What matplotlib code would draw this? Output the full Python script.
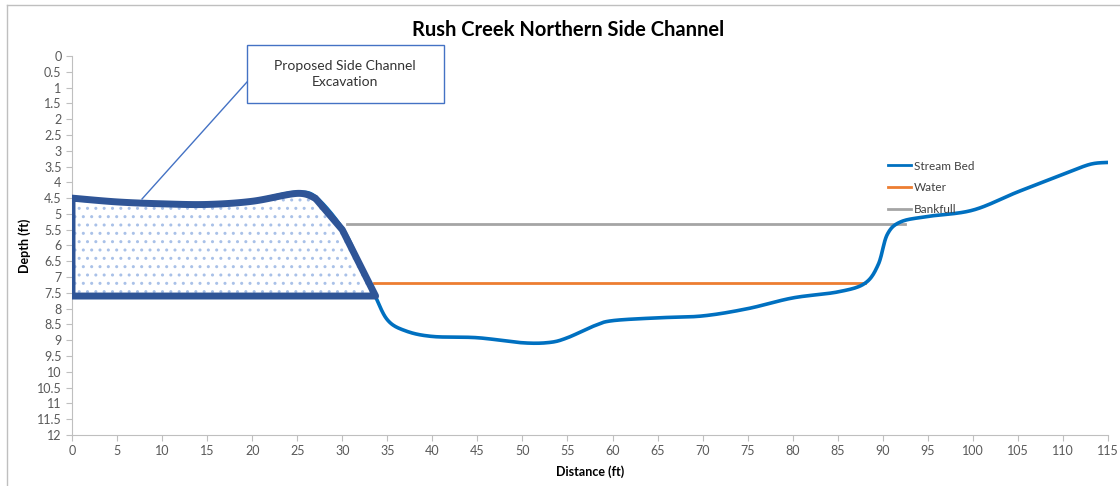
"""Rush Creek Northern Side Channel cross-section."""

import matplotlib.pyplot as plt
import numpy as np
from matplotlib.lines import Line2D
from matplotlib.patches import Polygon, Rectangle

plt.rcParams["font.family"] = ["Lato", "DejaVu Sans"]

# Stream bed profile (distance ft, depth ft)
bed_distance = [0, 5, 10, 15, 20, 23, 25, 27, 30, 32, 33.5, 35, 37, 40, 45,
                50, 53, 55, 58, 60, 65, 70, 75, 80, 85, 88, 89.5, 90.5,
                92, 95, 100, 105, 110, 113, 115]
bed_depth = [4.55, 4.62, 4.68, 4.7, 4.58, 4.4, 4.32, 4.45, 5.45, 6.6, 7.5,
             8.35, 8.7, 8.88, 8.92, 9.08, 9.07, 8.92, 8.54, 8.38, 8.29, 8.23,
             8.0, 7.66, 7.47, 7.2, 6.6, 5.65, 5.25, 5.08, 4.88, 4.3, 3.75,
             3.43, 3.37]

water_distance = [33.5, 88]
water_depth = [7.2, 7.2]

bankfull_distance = [30.5, 92.5]
bankfull_depth = [5.33, 5.33]

# Proposed excavation outline: smooth top, then straight slope and base
exc_top_distance = [0, 5, 10, 15, 20, 25, 27]
exc_top_depth = [4.5, 4.62, 4.68, 4.7, 4.6, 4.35, 4.5]
exc_edge_distance = [30, 33.7, 0]
exc_edge_depth = [5.5, 7.6, 7.6]


def smooth(x, y, n=20):
    """Catmull-Rom style smoothing, similar to Excel's smoothed lines."""
    x = np.asarray(x, float)
    y = np.asarray(y, float)
    px = np.concatenate([[x[0]], x, [x[-1]]])
    py = np.concatenate([[y[0]], y, [y[-1]]])
    out_x, out_y = [], []
    t = np.linspace(0, 1, n, endpoint=False)
    for i in range(1, len(px) - 2):
        for arr, out in ((px, out_x), (py, out_y)):
            p0, p1, p2, p3 = arr[i - 1], arr[i], arr[i + 1], arr[i + 2]
            m1 = (p2 - p0) / 2 / 3
            m2 = (p3 - p1) / 2 / 3
            out.extend((1 - t) ** 3 * p1 + 3 * (1 - t) ** 2 * t * (p1 + m1)
                       + 3 * (1 - t) * t ** 2 * (p2 - m2) + t ** 3 * p2)
    out_x.append(x[-1])
    out_y.append(y[-1])
    return np.array(out_x), np.array(out_y)


fig = plt.figure(figsize=(11.2, 4.86), dpi=100)
ax = fig.add_axes([72 / 1120, 1 - 435 / 486, 1036 / 1120, 379 / 486])

# Chart border (top and left visible)
fig.add_artist(Line2D([6.5 / 1120, 1], [1 - 5.5 / 486] * 2, color="#bfbfbf", lw=1))
fig.add_artist(Line2D([6.5 / 1120] * 2, [0, 1 - 5.5 / 486], color="#bfbfbf", lw=1))

# Excavation area
tx, ty = smooth(exc_top_distance, exc_top_depth)
pts = list(zip(tx, ty)) + list(zip(exc_edge_distance, exc_edge_depth))
ax.add_patch(Polygon(pts, closed=True, facecolor="none", edgecolor="#a9c1e8",
                     hatch="..", lw=0, zorder=2))

sx, sy = smooth(bed_distance, bed_depth)
ax.plot(sx, sy, color="#0070c0", lw=2.6, zorder=4, label="Stream Bed")
ax.plot(water_distance, water_depth, color="#ed7d31", lw=2, zorder=3, label="Water")
ax.plot(bankfull_distance, bankfull_depth, color="#a5a5a5", lw=2, zorder=3,
        label="Bankfull")

ax.add_patch(Polygon(pts, closed=True, facecolor="none", edgecolor="#2f5597",
                     lw=5, joinstyle="round", zorder=5))

# Callout box and leader line
fig.add_artist(Rectangle((247 / 1120, 1 - 103 / 486), 197 / 1120, 58 / 486,
                         transform=fig.transFigure, fc="white", ec="#4472c4",
                         lw=1, zorder=6))
fig.text(345 / 1120, 1 - 74 / 486, "Proposed Side Channel\nExcavation",
         ha="center", va="center", fontsize=10, color="#333333",
         linespacing=1.45, zorder=7)
fig.add_artist(Line2D([247 / 1120, 142 / 1120], [1 - 82 / 486, 1 - 199 / 486],
                      color="#4472c4", lw=1, zorder=6))

ax.set_xlim(0, 115)
ax.set_ylim(12, 0)
ax.set_xticks(np.arange(0, 116, 5))
ax.set_yticks(np.arange(0, 12.01, 0.5))
ax.set_yticklabels([f"{v:g}" for v in np.arange(0, 12.01, 0.5)])
ax.tick_params(labelsize=9, colors="#595959", length=4, color="#bfbfbf")
for side in ("top", "right"):
    ax.spines[side].set_visible(False)
for side in ("left", "bottom"):
    ax.spines[side].set_color("#bfbfbf")
ax.set_xlabel("Distance (ft)", fontsize=9, fontweight="bold", labelpad=6)
ax.set_ylabel("Depth (ft)", fontsize=9, fontweight="bold", labelpad=4)

fig.text(568 / 1120, 1 - 30 / 486, "Rush Creek Northern Side Channel",
         ha="center", va="center", fontsize=14.5, fontweight="bold")

handles = [Line2D([], [], color=c, lw=2) for c in ("#0070c0", "#ed7d31", "#a5a5a5")]
ax.legend(handles, ["Stream Bed", "Water", "Bankfull"], loc="upper left",
          bbox_to_anchor=(0.777, 0.752), frameon=False, fontsize=8.5,
          handlelength=2.0, labelspacing=0.9, handletextpad=0.2,
          labelcolor="#404040")

fig.savefig("out.png", dpi=100)
